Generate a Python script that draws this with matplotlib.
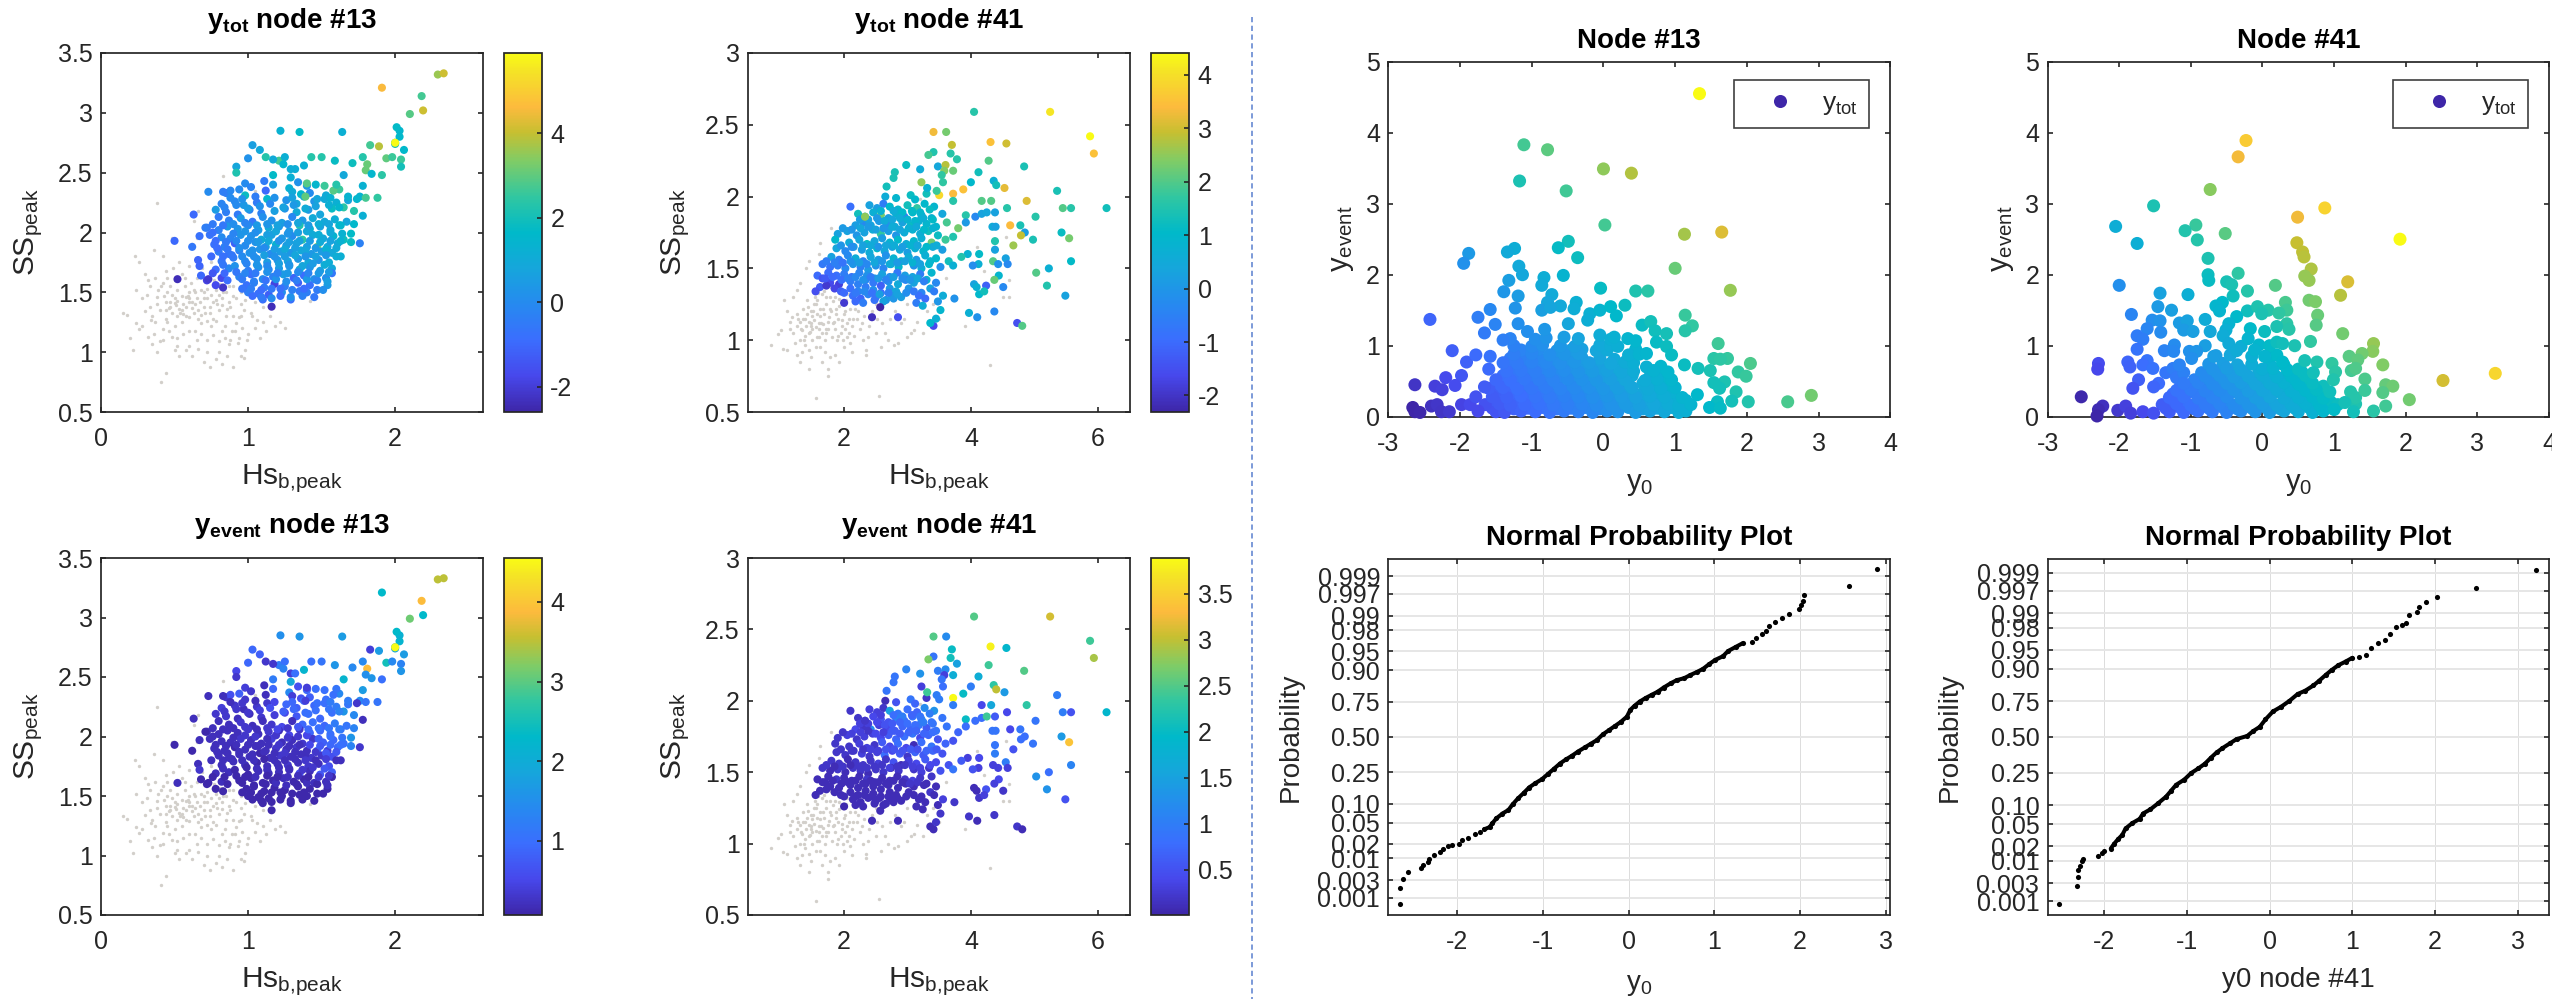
"""Scatter panels of Hs/SS coloured by response, plus y0 probability plots."""

from statistics import NormalDist

import matplotlib

matplotlib.use("Agg")
import matplotlib.pyplot as plt
from matplotlib.colors import LinearSegmentedColormap
from matplotlib.lines import Line2D

W, H = 2552, 1006

# -- node 13: dominant storms (colour cloud first, isolated storms after) --
hs13 = [
    .98, 1.02, 1.11, 1.17, 1.28, 1.34, 1.40,
    .85, .88, .94, .98, 1.12, 1.30, 1.36, 1.42, 1.53, 1.62,
    .82, .91, .97, 1.06, 1.13, 1.26, 1.33, 1.45, 1.52, 1.60, 1.68, 1.76,
    .78, .85, .93, 1.01, 1.09, 1.18, 1.25, 1.33, 1.41, 1.49, 1.57, 1.65, 1.72,
    .80, .87, .95, 1.03, 1.10, 1.16, 1.23, 1.30, 1.37, 1.44, 1.52, 1.59, 1.67, 1.78,
    .72, .80, .86, .93, 1.00, 1.07, 1.14, 1.21, 1.28, 1.35, 1.42, 1.49, 1.56, 1.63, 1.70,
    .74, .82, .88, .95, 1.02, 1.09, 1.16, 1.23, 1.30, 1.37, 1.44, 1.51, 1.58, 1.65,
    .77, .84, .91, .98, 1.05, 1.12, 1.19, 1.26, 1.33, 1.40, 1.47, 1.54, 1.61,
    .80, .87, .94, 1.01, 1.08, 1.15, 1.22, 1.29, 1.36, 1.43, 1.50, 1.57,
    .66, .82, .90, .98, 1.06, 1.13, 1.20, 1.27, 1.34, 1.41, 1.48, 1.55, 1.63,
    .67, .78, .87, 1.00, 1.07, 1.14, 1.21, 1.28, 1.35, 1.42, 1.49, 1.57,
    .68, .72, .82, .94, 1.02, 1.10, 1.17, 1.24, 1.31, 1.38, 1.45, 1.53, 1.57,
    .78, .83, .99, 1.04, 1.11, 1.18, 1.25, 1.34, 1.42, 1.54,
    1.00, 1.07, 1.14, 1.23, 1.35, 1.40, 1.10, 1.16, 1.29,
    .50, .63, .62, .71, .52, .73, .83, .73, .67,
    .84, .92, 1.00, 1.08, 1.15, 1.24, 1.31, 1.39, 1.46, 1.55, 1.62,
    .76, .90, .98, 1.05, 1.13, 1.19, 1.27, 1.34, 1.40, 1.48, 1.56, 1.64,
    .79, .86, .94, 1.03, 1.11, 1.18, 1.25, 1.32, 1.39, 1.46, 1.53, 1.60,
    .83, .91, .99, 1.06, 1.13, 1.21, 1.28, 1.37, 1.44, 1.52,
    .86, .96, 1.04, 1.12, 1.19, 1.26, 1.33, 1.40, 1.47, 1.54,
    1.03, 1.09, 1.16, 1.22, 1.29, 1.37, 1.45,
    .88, .96, 1.05, 1.18, 1.30, 1.38, 1.47, 1.56, 1.68, 1.74,
    .76, .83, .90, .98, 1.06, 1.13, 1.20, 1.27, 1.34, 1.41, 1.48, 1.55, 1.62, 1.72,
    .78, .85, .92, 1.00, 1.07, 1.14, 1.21, 1.28, 1.35, 1.42, 1.49, 1.56, 1.63, 1.70,
    .75, .83, .89, .96, 1.04, 1.11, 1.18, 1.25, 1.32, 1.39, 1.46, 1.53, 1.60,
    .76, .84, .92, .98, 1.05, 1.13, 1.20, 1.27, 1.34, 1.41, 1.48, 1.55,
    .96, 1.02, 1.09, 1.16, 1.22, 1.30, 1.38, 1.47, 1.51,
    2.00, 2.03, 2.03, 2.00, 2.06, 1.89, 1.83, 1.94, 1.98, 2.04, 2.04, 1.78, 1.81, 1.80,
    1.91, 1.84, 1.71, 1.65, 1.59, 1.50, 1.43, 1.38, 1.21, 1.25, 1.24, 1.17, 1.12, 1.00,
    1.08, 1.03, 1.22, 1.35, 1.64, .92, .92, 1.29, 1.32, 1.17, 1.29, 1.88, 1.80, 1.78,
    1.40, 1.52, 1.58, 1.60, 1.46, 1.39, 1.76,
    1.91, 2.29, 2.33, 2.18, 2.19, 2.10, 2.01, 2.00,
]
ss13 = [
    2.41, 2.38, 2.43, 2.40, 2.37, 2.42, 2.39,
    2.33, 2.35, 2.36, 2.31, 2.35, 2.34, 2.32, 2.33, 2.31, 2.36,
    2.24, 2.26, 2.23, 2.25, 2.28, 2.27, 2.24, 2.26, 2.28, 2.25, 2.27, 2.30,
    2.19, 2.17, 2.15, 2.19, 2.16, 2.18, 2.20, 2.17, 2.19, 2.15, 2.20, 2.21, 2.18,
    2.13, 2.10, 2.12, 2.09, 2.13, 2.10, 2.08, 2.13, 2.10, 2.12, 2.09, 2.11, 2.09, 2.14,
    2.04, 2.02, 2.05, 2.03, 2.06, 2.02, 2.04, 2.05, 2.01, 2.06, 2.03, 2.05, 2.02, 2.06, 1.99,
    1.98, 1.96, 1.95, 1.98, 1.97, 1.94, 1.98, 1.95, 1.97, 1.94, 1.98, 1.95, 1.97, 1.94,
    1.90, 1.88, 1.91, 1.89, 1.92, 1.88, 1.90, 1.89, 1.91, 1.88, 1.88, 1.88, 1.91,
    1.84, 1.82, 1.85, 1.83, 1.86, 1.82, 1.84, 1.83, 1.85, 1.82, 1.84, 1.83,
    1.77, 1.76, 1.79, 1.76, 1.78, 1.75, 1.77, 1.76, 1.78, 1.75, 1.77, 1.75, 1.80,
    1.72, 1.69, 1.70, 1.68, 1.71, 1.69, 1.70, 1.72, 1.69, 1.71, 1.68, 1.70,
    1.64, 1.60, 1.62, 1.63, 1.65, 1.61, 1.63, 1.65, 1.62, 1.64, 1.61, 1.62, 1.66,
    1.56, 1.54, 1.56, 1.58, 1.54, 1.57, 1.55, 1.58, 1.56, 1.56,
    1.50, 1.49, 1.48, 1.50, 1.51, 1.50, 1.44, 1.38, 1.44,
    1.93, 2.15, 1.88, 2.04, 1.61, 2.34, 2.34, 1.61, 1.97,
    2.21, 2.23, 2.20, 2.22, 2.24, 2.21, 2.23, 2.20, 2.22, 2.23, 2.21,
    2.00, 1.99, 2.01, 2.00, 1.98, 2.01, 1.99, 2.00, 2.01, 1.98, 2.00, 1.99,
    1.87, 1.86, 1.87, 1.85, 1.87, 1.86, 1.86, 1.87, 1.85, 1.87, 1.86, 1.87,
    1.73, 1.72, 1.74, 1.73, 1.72, 1.74, 1.73, 1.72, 1.74, 1.73,
    1.60, 1.61, 1.59, 1.60, 1.61, 1.59, 1.60, 1.61, 1.60, 1.59,
    1.47, 1.46, 1.45, 1.47, 1.46, 1.47, 1.46,
    2.29, 2.28, 2.30, 2.29, 2.29, 2.30, 2.28, 2.29, 2.30, 2.28,
    2.07, 2.06, 2.07, 2.08, 2.06, 2.07, 2.06, 2.07, 2.08, 2.06, 2.07, 2.07, 2.06, 2.07,
    1.93, 1.92, 1.93, 1.93, 1.92, 1.93, 1.93, 1.92, 1.93, 1.93, 1.92, 1.93, 1.93, 1.92,
    1.80, 1.80, 1.81, 1.80, 1.80, 1.81, 1.80, 1.80, 1.81, 1.80, 1.80, 1.81, 1.80,
    1.66, 1.66, 1.67, 1.66, 1.66, 1.67, 1.66, 1.66, 1.67, 1.66, 1.66, 1.67,
    1.53, 1.53, 1.52, 1.53, 1.53, 1.52, 1.53, 1.52, 1.52,
    2.74, 2.85, 2.80, 2.75, 2.69, 2.72, 2.73, 2.62, 2.63, 2.61, 2.55, 2.63, 2.57, 2.52,
    2.48, 2.49, 2.58, 2.48, 2.60, 2.63, 2.63, 2.56, 2.60, 2.63, 2.57, 2.61, 2.63, 2.62,
    2.69, 2.73, 2.85, 2.84, 2.84, 2.55, 2.50, 2.53, 2.53, 2.48, 2.46, 2.29, 2.29, 2.39,
    2.41, 2.39, 2.35, 2.40, 2.40, 2.30, 1.91,
    3.21, 3.32, 3.33, 3.14, 3.02, 2.99, 2.88, 2.75,
]
ytot13 = [
    0.0, -0.2, -0.5, 0.6, 1.3, 0.2, 0.4,
    -0.4, -0.1, 0.0, 1.8, -1.0, 1.0, 1.6, 0.0, 1.0, 2.6,
    -0.2, -0.1, 0.4, -0.5, 1.5, 0.2, 0.8, 0.3, 1.0, 1.2, 0.8, 1.4,
    .5, -.4, -.5, -.2, -.3, .6, .2, 1.0, .4, .8, 1.8, 2.4, 2.3,
    -.5, -.3, .4, -.6, .1, .2, .6, -.1, .4, 1.0, .9, 1.1, .8, 1.2,
    -.6, -.3, .4, .3, .0, .5, .9, .3, .5, 2.2, 1.2, .7, 1.0, 1.5, 1.7,
    -.7, .0, -.2, .3, .2, 1.0, .6, .4, .0, 2.4, 1.0, .9, 1.4, 1.9,
    -.8, -.3, -1.2, .0, .2, .7, 1.3, .5, .7, .6, 3.3, .8, .9,
    -.5, -.7, -.3, .2, .3, .0, .5, .3, .9, .4, .5, .9,
    -1.1, -.6, -.4, .0, .2, .5, .3, .7, .4, .9, .3, 1.1, 1.2,
    -1.1, -.9, -.1, -.4, .2, -.1, .4, .3, .9, .3, .6, .9,
    -1.0, -1.9, -1.7, -.2, -.8, .0, -.3, .5, -1.1, -.9, .1, .1, -.6,
    -1.7, -2.2, -.8, -.3, -.5, -1.9, -.4, -1.2, -.8, .4,
    -.4, -.8, -1.2, .1, -.6, -.4, -.8, -2.4, -.8,
    -1.0, -1.0, -.6, -.4, -2.4, .0, -.4, -2.1, -.8,
    -.2, .0, .5, .2, -.1, .7, .4, 1.0, .7, 1.2, 1.5,
    -.8, -.2, .3, .1, .6, .8, .3, .6, .9, 1.1, 1.0, 1.3,
    -.9, -.6, .1, .2, .0, .5, .9, .6, .8, .4, 1.2, 1.0,
    -.6, .2, -.2, .3, .0, .6, .3, .8, .5, 1.1,
    -.9, -.5, -.3, -.7, .2, .1, -.4, .4, -.2, .6,
    -.9, -.5, .0, -.9, .2, -.3, -.6,
    .0, .2, -.4, .2, .7, 1.0, .8, 1.3, 1.4, 1.5,
    -.5, -.6, .1, -.2, .4, .3, .7, .1, .8, .5, 1.1, .8, 1.5, 1.6,
    -.9, -.5, -.1, .1, .4, .9, .2, .6, .7, .5, 1.0, .7, 1.3, 1.8,
    -1.0, -.8, -.6, .0, .1, .6, .2, .5, .8, .3, .7, .4, 1.1,
    -1.4, -1.0, -.6, -.2, -.5, .2, -.3, .4, .0, -.2, .4, .5,
    -.7, -.4, -.9, -.6, -.8, -.3, -.9, -.5, .1,
    2.0, 1.5, 1.6, 2.0, 1.6, 3.9, 2.7, 3.0, 2.6, 2.6, 2.0, 2.3, 3.1, 3.1,
    2.4, 1.5, 1.9, .9, 1.8, 2.3, 2.3, 1.2, 2.7, 1.2, 1.5, 1.0, 2.3, .2,
    .9, .6, 1.3, 1.7, 1.2, .8, 2.2, 1.1, 1.1, 1.7, 1.2, 2.5, 2.7, 1.3,
    2.9, 2.6, 2.9, 2.3, 1.5, 3.0, -.3,
    4.6, 3.6, 4.1, 2.7, 4.1, 2.9, 1.7, 5.9,
]
yevent13 = [
    .4, .3, .2, .9, 1.4, .6, .9,
    .3, .6, .8, .3, .2, .4, .6, .8, 1.0, 1.4,
    .4, .3, .2, .3, .3, .9, .8, .9, 1.0, 1.2, 1.1, 1.4,
    .3, .3, .2, .2, .3, .4, .5, .7, 1.0, .9, 1.0, 1.6, 1.4,
    .2, .2, .3, .2, .2, .3, .5, .2, .9, 1.0, .9, 1.2, 1.1, .2,
    .2, .2, .2, .2, .3, .2, .3, .2, .5, .3, .9, .9, 1.0, 1.1, 1.6,
    .2, .2, .2, .3, .2, .2, .4, .2, .2, .3, .3, .8, .9, 1.0,
    .2, .2, .1, .2, .2, .2, .3, .2, .3, .2, 1.0, .4, .9,
    .2, .2, .2, .2, .1, .2, .3, .2, .2, .3, .3, .6,
    .2, .2, .2, .2, .1, .2, .2, .3, .2, .3, .2, .6, .2,
    .3, .2, .2, .1, .2, .2, .2, .2, .6, .2, .7, .8,
    .1, .1, .2, .1, .1, .1, .1, .2, .1, .1, .2, .2, .1,
    .1, .1, .1, .1, .1, .1, .1, .1, .1, .1,
    .1, .1, .1, .1, .1, .1, .1, .1, .1,
    .1, .2, .1, .1, .2, .2, .2, .1, .2,
    .3, .3, .3, .4, .6, .8, .9, 1.0, 1.0, 1.1, 1.3,
    .2, .2, .3, .3, .2, .3, .3, .3, .5, .8, 1.0, 1.1,
    .2, .2, .2, .2, .2, .2, .3, .2, .2, .3, .7, .7,
    .2, .1, .1, .2, .2, .2, .2, .3, .3, .7,
    .1, .1, .1, .1, .2, .2, .1, .2, .1, .2,
    .1, .1, .1, .1, .1, .1, .1,
    .2, .3, .2, .5, .9, .9, 1.0, 1.2, 1.2, .3,
    .2, .2, .2, .3, .2, .3, .5, .3, .7, .9, 1.0, 1.1, 1.2, 1.3,
    .2, .2, .2, .2, .2, .2, .3, .2, .2, .5, .7, .9, 1.0, 1.3,
    .2, .2, .2, .2, .2, .1, .2, .2, .2, .3, .2, .4, .2,
    .1, .1, .1, .1, .2, .1, .1, .2, .2, .1, .3, .3,
    .1, .1, .1, .1, .1, .1, .1, .1, .1,
    1.9, 2.1, 2.2, 1.9, 1.7, 1.7, .4, 2.5, 1.4, 1.3, 1.6, 1.4, 3.9, 1.5,
    1.0, 1.6, 1.4, 2.2, 1.6, 1.1, 1.0, 2.2, 1.2, 1.0, 1.3, .3, .3, .9,
    .8, .9, 1.5, 1.6, 1.7, .5, .3, .4, 1.0, 1.2, 1.9, 1.1, 1.1, 1.7,
    .4, 1.0, 1.0, 1.1, 1.0, .4, .3,
    2.3, 3.5, 3.5, 3.9, 2.3, 3.1, 2.3, 4.55,
]

# -- node 41: dominant storms --
hs41 = [
    2.65, 2.82, 3.05, 3.12, 3.30,
    2.40, 2.52, 2.62, 2.72, 2.85, 3.00, 3.15, 3.27, 3.42,
    2.22, 2.33, 2.46, 2.58, 2.70, 2.82, 2.95, 3.08, 3.22, 3.38, 3.55,
    2.18, 2.30, 2.42, 2.55, 2.68, 2.80, 2.92, 3.05, 3.18, 3.30, 3.45, 3.62,
    1.90, 2.05, 2.20, 2.32, 2.45, 2.58, 2.70, 2.82, 2.95, 3.08, 3.20, 3.33, 3.48, 3.80,
    1.86, 2.08, 2.24, 2.36, 2.48, 2.60, 2.72, 2.85, 2.98, 3.10, 3.22, 3.38, 3.60, 3.72,
    1.88, 2.02, 2.15, 2.28, 2.40, 2.52, 2.64, 2.76, 2.88, 3.00, 3.12, 3.25, 3.40, 3.55, 3.95,
    1.80, 1.92, 2.06, 2.18, 2.30, 2.42, 2.54, 2.66, 2.78, 2.90, 3.02, 3.14, 3.28, 3.45, 3.65, 3.85,
    1.66, 1.78, 1.90, 2.02, 2.14, 2.26, 2.38, 2.50, 2.62, 2.74, 2.86, 3.10, 3.22, 3.34, 3.52, 3.72,
    1.75, 1.88, 2.00, 2.12, 2.24, 2.36, 2.48, 2.60, 2.72, 2.84, 2.96, 3.08, 3.20, 3.38,
    1.58, 1.66, 1.78, 1.92, 2.10, 2.22, 2.34, 2.46, 2.58, 2.70, 2.85, 2.97, 3.10, 3.30, 3.45,
    1.62, 1.72, 1.85, 2.10, 2.22, 2.34, 2.46, 2.58, 2.72, 2.82, 3.02, 3.22, 3.36, 3.42,
    1.55, 1.95, 2.14, 2.26, 2.38, 2.50, 2.66, 2.75, 2.90, 3.18, 3.28, 3.48,
    2.18, 2.30, 2.48, 2.62, 2.78, 3.14, 3.24,
    2.58, 2.78, 2.92, 3.07, 3.20, 3.35,
    2.25, 2.38, 2.52, 2.64, 2.76, 2.88, 3.00, 3.12, 3.25, 3.40,
    1.98, 2.12, 2.26, 2.38, 2.50, 2.62, 2.76, 2.88, 3.02, 3.14, 3.26, 3.40,
    1.95, 2.12, 2.30, 2.42, 2.54, 2.66, 2.79, 2.92, 3.05, 3.16, 3.30, 3.46,
    1.72, 1.85, 1.98, 2.10, 2.24, 2.36, 2.48, 2.60, 2.72, 2.84, 2.96, 3.08, 3.20, 3.36,
    1.70, 1.82, 1.96, 2.06, 2.18, 2.30, 2.42, 2.54, 2.66, 2.78, 2.92, 3.04, 3.16, 3.26,
    2.00, 2.18, 2.32, 2.44, 2.56, 2.70, 2.84, 2.98, 3.10,
    4.05, 5.25, 5.88, 5.94, 6.14, 5.58, 5.45, 5.36, 5.43, 5.55, 5.58, 5.23, 5.20, 5.03,
    5.49, 5.02, 4.98, 4.84, 4.88, 4.78, 4.85, 4.79, 4.67, 4.62, 4.53, 4.57, 4.56, 4.31,
    4.28, 4.12, 4.00, 3.88, 4.36, 4.40, 4.17, 4.32, 4.38, 4.34, 4.39, 3.92, 4.07, 4.17,
    4.25, 3.92, 4.38, 4.38, 4.35, 4.55, 4.43, 4.58, 4.44, 4.37, 4.13, 4.12, 4.03, 4.51,
    4.24, 4.05, 4.09, 4.13, 4.21, 3.97, 4.10, 4.37, 4.73, 4.81, 3.41, 3.36, 3.45, 3.52,
    3.74, 3.56, 2.85, 2.44, 2.57, 2.00, 3.41, 3.61, 3.70, 3.68, 3.78, 3.41, 3.33, 2.98,
    2.80, 2.78, 2.67, 3.20, 3.48, 3.60, 3.58, 3.72, 3.54, 3.56, 3.22, 3.50, 3.72, 3.31,
    3.46, 3.72, 2.10, 2.33,
]
ss41 = [
    2.00, 1.99, 2.01, 1.98, 2.02,
    1.94, 1.92, 1.95, 1.93, 1.91, 1.94, 1.92, 1.95, 1.93,
    1.88, 1.86, 1.89, 1.87, 1.85, 1.88, 1.86, 1.89, 1.87, 1.85, 1.88,
    1.80, 1.82, 1.80, 1.83, 1.81, 1.79, 1.82, 1.80, 1.83, 1.81, 1.79, 1.82,
    1.74, 1.76, 1.73, 1.75, 1.77, 1.74, 1.76, 1.73, 1.75, 1.77, 1.74, 1.76, 1.73, 1.78,
    1.70, 1.68, 1.70, 1.67, 1.69, 1.71, 1.68, 1.70, 1.67, 1.69, 1.71, 1.68, 1.70, 1.72,
    1.64, 1.62, 1.65, 1.63, 1.61, 1.64, 1.62, 1.65, 1.63, 1.61, 1.64, 1.62, 1.65, 1.63, 1.60,
    1.58, 1.56, 1.59, 1.57, 1.55, 1.58, 1.56, 1.59, 1.57, 1.55, 1.58, 1.56, 1.59, 1.57, 1.55, 1.58,
    1.53, 1.51, 1.52, 1.50, 1.53, 1.51, 1.49, 1.52, 1.50, 1.53, 1.51, 1.52, 1.50, 1.53, 1.51, 1.52,
    1.47, 1.45, 1.46, 1.44, 1.47, 1.45, 1.43, 1.46, 1.44, 1.47, 1.45, 1.44, 1.46, 1.47,
    1.45, 1.43, 1.40, 1.39, 1.41, 1.39, 1.42, 1.40, 1.38, 1.41, 1.39, 1.42, 1.40, 1.42, 1.40,
    1.37, 1.38, 1.36, 1.36, 1.34, 1.37, 1.35, 1.33, 1.36, 1.34, 1.36, 1.33, 1.36, 1.34,
    1.34, 1.34, 1.31, 1.29, 1.32, 1.30, 1.28, 1.31, 1.30, 1.31, 1.29, 1.27,
    1.27, 1.26, 1.28, 1.27, 1.29, 1.26, 1.24,
    1.90, 1.90, 1.89, 1.90, 1.89, 1.91,
    1.84, 1.84, 1.85, 1.83, 1.84, 1.85, 1.84, 1.83, 1.85, 1.84,
    1.78, 1.77, 1.78, 1.79, 1.77, 1.78, 1.79, 1.77, 1.78, 1.79, 1.77, 1.78,
    1.66, 1.65, 1.66, 1.66, 1.65, 1.66, 1.66, 1.65, 1.66, 1.66, 1.65, 1.66,
    1.55, 1.54, 1.54, 1.55, 1.54, 1.53, 1.54, 1.55, 1.53, 1.54, 1.55, 1.54, 1.53, 1.55,
    1.43, 1.44, 1.42, 1.43, 1.44, 1.42, 1.44, 1.43, 1.42, 1.44, 1.43, 1.42, 1.43, 1.41,
    1.33, 1.33, 1.34, 1.33, 1.32, 1.33, 1.32, 1.33, 1.34,
    2.59, 2.59, 2.42, 2.30, 1.92, 1.92, 1.92, 2.04, 1.75, 1.71, 1.55, 1.50, 1.38, 1.47,
    1.31, 1.86, 1.70, 2.21, 1.97, 1.80, 1.75, 1.73, 1.66, 1.80, 2.06, 1.92, 2.37, 2.38,
    2.25, 2.17, 2.10, 2.05, 2.11, 2.08, 1.97, 1.97, 1.89, 1.79, 1.79, 1.87, 1.86, 1.88,
    1.89, 1.82, 1.69, 1.63, 1.55, 1.57, 1.53, 1.53, 1.45, 1.42, 1.60, 1.53, 1.52, 1.37,
    1.38, 1.39, 1.37, 1.32, 1.34, 1.19, 1.16, 1.20, 1.12, 1.10, 1.10, 1.12, 1.15, 1.21,
    1.29, 1.31, 1.16, 1.16, 1.23, 1.26, 2.45, 2.45, 2.36, 2.30, 2.26, 2.31, 2.29, 2.22,
    2.17, 2.13, 2.07, 2.19, 2.21, 2.22, 2.18, 2.18, 2.15, 2.10, 2.10, 2.01, 2.02, 2.06,
    2.04, 1.97, 1.93, 1.86,
]
ytot41 = [
    .6, .9, 1.2, 1.0, 1.3,
    .3, .2, -.6, 1.0, .9, 1.3, 1.7, 1.0, .9,
    1.3, .4, .7, 2.3, .2, .8, -.7, 1.0, .6, .7, .4,
    .2, -.3, .3, .1, -.2, .5, .3, 1.2, .7, .9, .9, 1.9,
    .3, .3, .0, .3, .6, 1.7, .2, .0, .6, .8, .6, 1.3, 1.2, 2.3,
    1.0, .5, .4, 1.2, .4, .2, .8, 1.0, .6, .9, .7, 2.2, 1.8, 1.5,
    .4, -.3, .1, .2, .6, 1.1, .4, .3, .5, .2, .7, .9, .5, .2, .8,
    .3, -.6, -.3, .6, -.4, .4, .2, -.1, .8, .9, .6, .1, .7, 1.0, 1.3, 1.5,
    -.7, -.8, -.6, -.3, .0, -.5, .1, -.1, -.4, .4, .9, -.1, .7, 1.0, -.1, .7,
    -1.0, -.9, -.6, -.8, -.4, -.1, .0, .3, -.2, -.7, .2, .3, -.6, .9,
    -1.0, -1.4, -1.6, -1.8, -.6, -.5, -.3, -.7, -1.2, -.1, .5, -.4, .3, .7, -.3,
    -1.3, -1.9, -1.7, -.9, -.4, -.6, -.2, -.9, .1, .4, .0, -.4, .3, -.6,
    -1.5, -1.2, -.9, -1.1, -.4, -.8, .0, .2, .2, -.9, -1.0, .0,
    -1.0, -.6, -.8, .3, .0, -.6, .6,
    .8, .6, 1.0, 1.1, .9, 1.2,
    .2, .3, .1, .5, .4, .6, .8, .9, .7, 1.1,
    .1, .0, .4, .1, .3, .0, .6, .4, .7, .5, 1.0, .8,
    .0, -.2, .3, .5, .0, .4, .6, .2, .8, .4, 1.0, .6,
    -.6, -.5, -.8, -.1, .2, -.3, .4, .0, .6, .1, .3, .8, .3, .9,
    -1.3, -1.0, -.9, -.5, -.3, -.1, -.6, .1, -.4, .2, -.2, .0, .4, -.5,
    -1.0, -.7, -.3, -.8, .2, -.5, .3, -.2, -.7,
    1.6, 4.1, 4.4, 3.5, 1.3, 1.6, 2.0, 1.4, 1.2, 2.3, 1.1, .7, 1.5, 2.0,
    .3, 1.6, 1.4, 1.4, 3.1, 1.4, .2, 2.9, 2.6, 3.4, 3.2, 1.6, 3.0, 3.5,
    2.0, 1.3, 1.0, 3.5, .7, 1.3, 2.0, 2.0, .3, .5, .3, 1.6, -.3, .3,
    .4, .1, 1.5, .3, 2.0, .3, -.1, -.3, .9, 2.2, 1.1, .7, -.2, -.3,
    -1.2, .3, .7, 1.0, 1.3, .7, -.1, -.3, -1.5, 2.0, -1.6, 1.0, .7, .9,
    -.1, .6, -1.5, -2.1, -2.3, -1.9, 3.3, 2.3, 2.9, 1.6, 1.6, 1.5, 1.9, 1.2,
    1.4, 1.4, 1.3, .6, .4, 2.8, 2.4, 2.2, 1.7, 1.7, 2.5, 3.9, 3.4, .8,
    1.8, 1.6, -.9, 2.5,
]
yevent41 = [
    .1, .5, .9, .7, .2,
    .3, .3, .2, 1.5, .9, .8, .7, 1.2, 1.3,
    .2, .4, .4, .5, .5, 1.1, .8, .9, 1.2, .9, .9,
    .4, .2, 1.2, .3, .4, .6, .7, .7, .9, .6, .9, .9,
    .2, .3, .2, .3, .3, .4, .6, .7, .8, .9, .4, .7, .5, .7,
    .2, .2, .3, .3, .2, .6, .4, .8, .4, .1, .8, .9, .7, .5,
    .2, .2, .2, .3, .2, .3, .8, .4, .6, .2, .7, .6, .7, .5, .3,
    .2, .2, .1, .2, .2, .2, .3, .2, .5, .1, .3, .4, .6, .4, .5, .6,
    .2, .1, .2, .1, .2, .2, .1, .2, .2, .1, .2, .2, .3, .2, .5, .9,
    .1, .2, .1, .1, .1, .2, .1, .1, .1, .1, .2, .3, .2, .2,
    .1, .1, .1, .1, .1, .1, .1, .1, .1, .1, .1, .1, .1, .1, .1,
    .1, .1, .1, .1, .1, .1, .1, .1, .1, .1, .1, .1, .2, .1,
    .1, .1, .1, .1, .1, .1, .1, .1, .1, .1, .1, .1,
    .1, .1, .1, .1, .1, .1, .1,
    .3, .8, 1.0, .7, .9, 1.0,
    .3, .3, .4, .5, .6, .7, .8, .8, 1.0, .9,
    .2, .3, .3, .2, .4, .3, .6, .6, .7, .7, .7, .8,
    .2, .2, .2, .3, .3, .5, .5, .5, .6, .5, .7, .6,
    .2, .1, .2, .1, .2, .2, .2, .2, .3, .2, .2, .3, .3, .4,
    .1, .1, .1, .1, .1, .1, .1, .1, .1, .1, .1, .2, .2, .1,
    .1, .1, .1, .1, .1, .1, .1, .1, .1,
    2.5, 3.1, 2.4, 2.9, 1.9, .5, 1.0, 1.0, 1.4, 3.4, 1.1, .8, 1.3, 1.3,
    .5, .9, .9, 2.5, 2.3, .9, .8, .8, .5, .4, 1.4, .4, 1.9, 3.8,
    2.4, 1.7, 1.0, 2.0, 2.3, 3.0, .4, 1.6, .6, .9, .9, 2.0, .8, .8,
    2.4, .8, .9, 1.0, .3, 1.0, .3, .3, .4, .3, .4, .3, .5, .2,
    .5, .1, .1, .2, .3, .2, .1, .2, .2, .1, .1, .1, .2, .2,
    .2, .3, .1, .1, .1, .05, 2.5, 1.2, 2.0, 2.1, 1.5, .9, 2.7, 1.1,
    .9, .9, .9, 1.3, 1.0, 1.2, .3, 1.7, .9, .8, .3, 1.0, 3.89, 2.4,
    1.0, 1.0, .2, .2,
]

# -- grey: storms below the peak-over-threshold --
hs13_grey = [
    .15, .18, .20, .22, .24, .26, .24, .23, .26, .30, .32, .38, .36, .42, .28, .31, .33, .35, .37, .38,
    .41, .44, .45, .47, .48, .50, .52, .53, .55, .57, .58, .60, .62, .64, .66, .68, .70, .72, .74, .76,
    .78, .80, .82, .85, .87, .88, .90, .92, .95, .97, .38, .42, .44, .46, .50, .53, .60, .65, .72, .80,
    .87, .95, .98, .44, .41, 1.05, 1.10, 1.15, 1.22, 1.25, 1.42, .50, .55, .60, .62, .65, .63, .66, .83, 1.05,
    .72, .75, .85, .90, .95, 1.05, 1.10, .48, .42, .58, .55, .52, .60, .63, .56, .50, .47, .44, .40, .65,
    .70, .72, .75, .78, .82, .85, .68, .60, .52,
    .30, .34, .38, .42, .46, .50, .54, .58, .62, .66, .70, .74, .78, .82, .86, .90, .94, .98, 1.02, 1.06,
    .28, .32, .36, .40, .44, .48, .52, .56, .60, .64, .68, .72, .76, .80, .84, .88, .92, .96, 1.00, 1.08,
    .35, .39, .43, .47, .51, .55, .59, .63, .67, .71, .75, .79, .83, .87, .91, .95, .99, 1.03, 1.12, 1.18,
    .33, .37, .45, .49, .53, .57, .61, .65, .69, .73, .77, .81, .89, .93, .97, .45, .48, .52, .56, .60,
    .64, .68, .72, .76, .80, .84, .58, .62, .66, .70, .74, .78, .82, .86, .90, .94,
]
ss13_grey = [
    1.33, 1.31, 1.12, 1.02, 1.24, 1.19, 1.52, 1.80, 1.75, 1.65, 1.60, 2.25, 1.85, 1.80, 1.45, 1.48, 1.38, 1.30, 1.25, 1.40,
    1.55, 1.68, 1.50, 1.42, 1.33, 1.22, 1.12, 1.36, 1.47, 1.55, 1.38, 1.29, 1.42, 1.50, 1.35, 1.24, 1.45, 1.53, 1.38, 1.28,
    1.44, 1.35, 1.18, 1.30, 1.42, 1.10, 1.30, 1.24, 1.40, 1.35, 1.00, 1.10, 1.28, 1.18, 1.02, .97, 1.05, 1.10, 1.00, 1.00,
    1.07, .97, 1.02, .83, .75, 1.20, 1.25, 1.30, 1.25, 1.20, 1.43, 1.60, 1.65, 1.72, 1.90, 1.95, 2.10, 2.18, 2.47, 2.35,
    2.00, 1.75, 1.60, 1.55, 1.50, 1.42, 1.38, 1.95, 1.58, 1.30, 1.25, 1.30, 1.42, 1.33, 1.40, 1.45, 1.38, 1.42, 1.35, 1.45,
    1.38, 1.45, 1.48, 1.52, 1.45, 1.50, 1.52, 1.50, 1.52,
    1.34, 1.27, 1.46, 1.19, 1.37, 1.41, 1.33, 1.46, 1.37, 1.28, 1.50, 1.33, 1.26, 1.39, 1.36, 1.47, 1.29, 1.44, 1.33, 1.27,
    1.22, 1.13, 1.15, 1.09, 1.35, 1.48, 1.43, 1.32, 1.45, 1.40, 1.31, 1.26, 1.42, 1.48, 1.22, 1.38, 1.45, 1.20, 1.15, 1.12,
    1.07, 1.52, 1.47, 1.55, 1.39, 1.35, 1.47, 1.52, 1.42, 1.33, 1.22, 1.40, 1.50, 1.55, 1.18, 1.30, 1.10, 1.30, 1.18, 1.22,
    1.55, 1.62, 1.62, 1.70, 1.75, 1.62, 1.58, 1.62, 1.70, 1.62, 1.60, 1.57, 1.18, 1.08, .95, 1.25, 1.13, 1.05, 1.15, 1.18,
    1.18, 1.15, 1.10, 1.14, 1.09, 1.12, 1.02, .97, 1.03, .92, .88, .94, .90, .97, .88, 1.12,
]
hs41_grey = [
    .84, .95, 1.00, 1.03, 1.10, 1.20, 1.25, 1.30, 1.15, 1.10, 1.05, 1.25, 1.35, 1.40, 1.45, 1.50, 1.55, 1.60, 1.65, 1.70,
    1.75, 1.80, 1.85, 1.90, 1.95, 2.00, 2.05, 2.10, 2.15, 2.20, 2.25, 2.30, 2.35, 2.40, 2.50, 2.60, 2.70, 2.85, 3.00, 3.10,
    3.30, 3.50, 3.70, 4.30, 1.55, 2.55, 1.30, 1.45, 1.65, 1.75, 1.75, 1.45, 1.55, 1.70, 1.85, 2.00, 1.80, 1.62, 1.60, 1.45,
    1.40, 1.30, 1.20, 1.35, 1.42, 1.48, 1.52, 1.58, 1.62, 1.68, 1.72, 1.78, 1.83, 1.88, 1.92, 1.98, 2.03, 2.08, 1.38, 1.50,
    1.60, 1.72, 1.48, 1.58, 1.30, 1.65, 1.55, 1.75, 2.50, 2.80, 3.00, 3.60, 3.90, 4.50, 4.60, 4.60, 4.20, 4.10, 3.20, 4.55,
    1.15, 1.22, 1.28, 1.33, 1.38, 1.43, 1.47, 1.52, 1.57, 1.62, 1.67, 1.72, 1.77, 1.82, 1.87, 1.92, 1.97, 2.02, 2.07, 2.12,
    1.18, 1.26, 1.32, 1.37, 1.41, 1.46, 1.51, 1.56, 1.61, 1.66, 1.71, 1.76, 1.81, 1.86, 1.91, 1.96, 2.01, 2.06, 2.11, 2.17,
    1.25, 1.33, 1.38, 1.44, 1.49, 1.54, 1.59, 1.64, 1.69, 1.74, 1.79, 1.84, 1.89, 1.94, 1.99, 2.04, 2.09, 2.14, 2.22, 2.28,
    2.32, 2.38, 2.44, 2.52, 2.58, 2.64, 2.72, 2.78, 2.90, 2.95, 3.05, 3.15, 3.25, 3.40, 1.48, 1.62, 1.78, 1.92, 2.12, 2.35,
]
ss41_grey = [
    .97, 1.04, 1.07, .94, .93, 1.05, 1.10, 1.00, 1.13, 1.20, 1.28, 1.35, 1.22, 1.10, 1.05, 1.17, 1.09, 1.12, 1.05, 1.00,
    1.13, 1.20, 1.08, 1.15, 1.05, 1.18, 1.12, 1.22, 1.03, 1.15, 1.08, 1.00, .93, 1.10, 1.05, 1.12, 1.00, .98, 1.02, 1.07,
    1.20, 1.15, 1.30, .83, .60, .61, .85, .80, .85, .75, .80, .93, .95, .92, .90, .95, 1.78, 1.68, 1.60, 1.55,
    1.50, 1.40, 1.30, 1.15, 1.18, 1.20, 1.25, 1.28, 1.22, 1.18, 1.25, 1.30, 1.27, 1.22, 1.29, 1.25, 1.28, 1.05, 1.03, 1.00,
    1.02, 1.08, 1.12, 1.18, 1.13, 1.32, 1.35, 1.40, 1.25, 1.20, 1.25, 1.43, 1.10, 1.30, 1.30, 1.42, 1.48, 1.65, 1.98, 1.72,
    1.08, .98, 1.15, 1.07, 1.15, 1.23, 1.10, 1.14, 1.02, 1.17, 1.11, 1.05, 1.22, 1.12, 1.18, 1.24, 1.10, 1.20, 1.15, 1.10,
    1.16, 1.18, 1.08, 1.00, 1.28, 1.06, 1.20, 1.25, 1.08, 1.22, 1.30, 1.16, 1.02, 1.30, 1.03, 1.14, 1.08, 1.32, 1.30, 1.22,
    .90, .92, .97, 1.13, 1.08, 1.30, 1.33, 1.12, 1.34, 1.08, 1.37, 1.13, 1.00, 1.33, 1.00, 1.02, .98, 1.15, 1.20, 1.12,
    1.17, 1.02, 1.20, 1.15, .95, 1.05, 1.15, .97, 1.12, 1.15, 1.05, 1.13, 1.05, 1.25, .88, .95, .88, .85, .92, .90,
]

# -- y0 against y_event --
y0_13 = [
    -1.55, -1.40, -1.25, -1.05, -.85, -.65, -.45, -.25, -.05, .15, .35, .55, .75, .95, 1.15,
    -1.50, -1.25, -1.05, -.85, -.65, -.45, -.25, -.05, .15, .35, .55, .75, .95, 1.15,
    -1.50, -1.30, -1.10, -.90, -.70, -.50, -.30, -.10, .10, .30, .55, .75, .95,
    -1.45, -1.25, -1.05, -.85, -.65, -.45, -.25, -.05, .15, .35, .55, .70, .90,
    -1.40, -1.20, -1.00, -.80, -.60, -.40, -.20, .00, .20, .40, .65, .85,
    -1.25, -1.05, -.85, -.65, -.45, -.25, -.05, .15, .35, .60, .80,
    -1.30, -1.10, -.90, -.70, -.50, -.30, -.05, .15, .40,
    -1.15, -.90, -.65, -.45, -.30, -.10, .05, .45,
    -1.50, -1.38, -1.15, -.95, -.75, -.55, -.35, -.15, .05, .20, .45, .65, .85, 1.05, 1.15,
    -1.65, -1.45, -1.30, -1.10, -.90, -.70, -.50, -.30, -.10, .10, .30, .50, .70, .90, 1.05, 1.22,
    -1.55, -1.35, -1.15, -.95, -.75, -.55, -.35, -.15, .05, .25, .45, .65, .85, 1.10,
    -1.60, -1.40, -1.20, -1.00, -.80, -.60, -.40, -.20, .00, .20, .40, .62, .80, 1.00,
    -1.50, -1.30, -1.10, -.90, -.70, -.50, -.30, -.10, .10, .30, .58, .75, .95,
    -1.35, -1.15, -.95, -.75, -.55, -.35, -.15, .05, .25, .42, .70, .90,
    -1.40, -1.20, -1.00, -.80, -.60, -.40, -.20, .10, .30, .42,
    -1.25, -1.00, -.75, -.55, -.35, .35, .50, .60,
    -1.25, -1.00, -.85, -.60, -.40, -.05, .10, .20,
    -1.30, -.95, -.80, -.55, -.35, -.05, .10, .15,
    1.34, -1.11, -.78, .00, .39, -1.17, -.52, .02, 1.13, 1.65, -.49, -.63, -1.24, -1.34, -1.88,
    -1.95, -.36, -1.18, -1.13, -.56, -.83, -1.32, -.86, 1.00, -.04, .45, .62, 1.77, -1.39, -1.19,
    -.72, -.78, -.60, -.38, -.41, -.86, -.74, -1.23, -1.58, -1.75, -2.42, -1.51, -1.66, -1.19, -.82,
    -.49, -.19, -.05, .10, .30, .18, -.22, 1.14, 1.24, 1.14, .54, .66, .72, .88, .34,
    .45, .74, .88, .95, 1.60, 1.54, 1.73, 1.63, 2.05, 1.88, 1.99, 1.49, 1.32, 1.13, 1.69,
    1.54, 1.62, 1.85, 1.79, 2.02, 1.59, 2.57, 2.90, 1.48, 1.63, 1.31, -1.40, -1.06, -2.11, -1.91,
    -1.78, -1.98, -2.20, -2.63, -2.35, -2.25, -2.07, -1.58, -1.60, -2.66, -2.63, -2.56, -2.40, -2.32, -2.26,
    -2.15, -1.98, -1.86, -1.75, -1.78, -1.66,
]
yev_13 = [
    .12, .13, .11, .12, .13, .11, .12, .13, .11, .12, .13, .11, .12, .13, .11,
    .22, .23, .21, .22, .23, .21, .22, .23, .21, .22, .23, .21, .22, .23,
    .34, .33, .35, .34, .33, .35, .34, .33, .35, .34, .33, .35, .34,
    .46, .47, .45, .46, .47, .45, .46, .47, .45, .46, .47, .45, .46,
    .58, .57, .59, .58, .57, .59, .58, .57, .59, .58, .57, .59,
    .70, .71, .69, .70, .71, .69, .70, .71, .69, .70, .71,
    .82, .81, .83, .82, .81, .83, .82, .81, .83,
    .94, .95, .93, .94, .95, .93, .94, .95,
    .07, .06, .08, .07, .06, .08, .07, .06, .08, .07, .06, .08, .07, .06, .08,
    .17, .18, .16, .17, .18, .16, .17, .18, .16, .17, .18, .16, .17, .18, .16, .17,
    .28, .27, .29, .28, .27, .29, .28, .27, .29, .28, .27, .29, .28, .27,
    .40, .41, .39, .40, .41, .39, .40, .41, .39, .40, .41, .39, .40, .41,
    .52, .51, .53, .52, .51, .53, .52, .51, .53, .52, .51, .53, .52,
    .64, .65, .63, .64, .65, .63, .64, .65, .63, .64, .65, .63,
    .76, .75, .77, .76, .75, .77, .76, .75, .77, .76,
    .88, .89, .87, .88, .89, .87, .88, .89,
    1.00, .99, 1.01, 1.00, .99, 1.01, 1.00, .99,
    1.10, 1.09, 1.11, 1.12, 1.10, 1.15, 1.09, 1.12,
    4.55, 3.83, 3.76, 3.49, 3.43, 3.32, 3.18, 2.70, 2.57, 2.60, 2.47, 2.38, 2.37, 2.32, 2.30,
    2.16, 2.24, 2.12, 2.00, 1.99, 1.96, 1.92, 1.85, 2.09, 1.81, 1.77, 1.77, 1.78, 1.76, 1.70,
    1.72, 1.61, 1.56, 1.61, 1.52, 1.50, 1.54, 1.53, 1.51, 1.40, 1.37, 1.30, 1.18, 1.31, 1.23,
    1.31, 1.45, 1.50, 1.55, 1.57, 1.42, 1.36, 1.43, 1.28, 1.21, 1.29, 1.34, 1.21, 1.17, 1.10,
    1.07, 1.05, .99, .87, 1.03, .82, .82, .81, .75, .63, .57, .65, .68, .73, .49,
    .48, .40, .35, .22, .21, .21, .21, .30, .13, .12, .31, 1.08, 1.20, .93, .77,
    .87, .58, .55, .45, .43, .38, .44, .85, .67, .13, .07, .06, .15, .17, .07,
    .07, .17, .17, .08, .28, .42,
]
y0_41 = [
    -1.35, -1.15, -.95, -.75, -.55, -.35, -.15, .05, .25, .45, .65, .85,
    -1.30, -1.10, -.90, -.70, -.50, -.30, -.10, .10, .30, .50, .70, .95,
    -1.25, -1.05, -.85, -.65, -.45, -.25, -.05, .15, .35, .55, .70,
    -1.15, -.95, -.75, -.55, -.35, -.15, .05, .25, .45, .65, .85,
    -.95, -.75, -.55, -.35, -.15, .05, .25, .45, .65,
    -.85, -.65, -.45, -.25, -.05, .15, .35, .55,
    -.75, -.55, -.35, -.15, .10, .30,
    -.65, -.45, -.15, .10, .20,
    -.80, -.30, -.05, .10,
    -1.45, -1.35, -1.25, -1.20, -1.10,
    -1.30, -1.10, -.90, -.70, -.50, -.30, -.10, .10, .30, .50, .70, .85,
    -1.40, -1.20, -1.00, -.80, -.60, -.40, -.20, .00, .20, .40, .60, .80, 1.05, 1.30,
    -1.30, -1.10, -.90, -.70, -.50, -.30, -.10, .10, .30, .50, .70, .85, 1.30,
    -1.20, -1.00, -.80, -.60, -.40, -.20, .00, .20, .40, .60, .75,
    -1.10, -.90, -.70, -.50, -.30, -.10, .10, .30, .50, .70,
    -.80, -.60, -.40, -.20, .00, .20, .40, .60,
    -.70, -.50, -.30, .00, .15, .35, .50,
    -.23, -.34, -.73, -1.52, .87, .49, -2.05, -.93, -1.08, -.52, -.91, -1.75, .48, .56, .58,
    1.92, -.76, .68, -.34, -.76, -.75, .59, .65, -.50, -.43, 1.19, -2.00, .18, -.21, -1.43,
    -1.04, 1.09, -.41, .65, .74, .32, -.56, -.65, -.60, -1.46, -1.27, -.21, -.07, .08, -.01,
    .34, .23, .77, -1.83, -.36, -1.54, -1.43, -1.16, -1.05, -.80, -.47, .34, .75, -1.61, -1.42,
    -1.10, -.97, -.73, -.51, -.17, .03, .20, .37, 1.12, -1.75, -1.67, -1.75, -.55, -.20, .67,
    .45, .20, .28, 1.55, -1.23, -1.37, -1.24, -1.02, -.92, -.47, -.36, -.11, 1.54, 1.39, 1.21,
    1.33, -2.29, -2.30, -1.88, -1.85, -1.61, -1.67, -1.53, -1.16, -.99, -.68, .03, .28, .59, .76,
    .97, 1.68, 1.24, 1.30, 1.02, .71, -1.73, -1.81, -1.52, 1.43, 1.72, 1.82, 1.68, 1.23, 1.43,
    -2.53, 2.05, 2.52, 3.25, .99, .94, -2.23, -2.29, -2.31, -2.02, -1.91, -1.84, -1.67, -1.52, 1.15,
    1.00, 1.27, 1.55, 1.72,
]
yev_41 = [
    .12, .13, .11, .12, .13, .11, .12, .13, .11, .12, .13, .11,
    .22, .23, .21, .22, .23, .21, .22, .23, .21, .22, .23, .21,
    .32, .33, .31, .32, .33, .31, .32, .33, .31, .32, .33,
    .42, .43, .41, .42, .43, .41, .42, .43, .41, .42, .43,
    .52, .53, .51, .52, .53, .51, .52, .53, .51,
    .62, .63, .61, .62, .63, .61, .62, .63,
    .74, .75, .73, .74, .75, .73,
    .86, .87, .85, .86, .87,
    1.00, .99, 1.01, 1.00,
    .47, .62, .68, .55, .62,
    .07, .06, .08, .07, .06, .08, .07, .06, .08, .07, .06, .08,
    .17, .18, .16, .17, .18, .16, .17, .18, .16, .17, .18, .16, .17, .18,
    .27, .28, .26, .27, .28, .26, .27, .28, .26, .27, .28, .26, .27,
    .37, .38, .36, .37, .38, .36, .37, .38, .36, .37, .38,
    .47, .48, .46, .47, .48, .46, .47, .48, .46, .47,
    .57, .58, .56, .57, .58, .56, .57, .58,
    .67, .68, .66, .67, .68, .66, .67,
    3.89, 3.66, 3.20, 2.97, 2.94, 2.81, 2.68, 2.70, 2.62, 2.58, 2.49, 2.44, 2.45, 2.32, 2.25,
    2.50, 2.23, 2.08, 2.02, 2.00, 1.92, 1.98, 1.92, 1.90, 1.86, 1.90, 1.85, 1.85, 1.77, 1.74,
    1.72, 1.71, 1.70, 1.64, 1.62, 1.61, 1.61, 1.56, 1.49, 1.55, 1.50, 1.49, 1.55, 1.50, 1.45,
    1.50, 1.46, 1.43, 1.44, 1.41, 1.36, 1.35, 1.32, 1.35, 1.37, 1.31, 1.31, 1.29, 1.24, 1.19,
    1.22, 1.20, 1.20, 1.22, 1.24, 1.20, 1.27, 1.23, 1.17, 1.14, 1.09, .95, 1.14, 1.10, 1.06,
    1.00, 1.05, 1.03, 1.03, 1.01, .93, .92, .92, .92, 1.03, .93, .94, .92, .89, .85,
    .80, .75, .67, .77, .70, .79, .73, .68, .73, .82, .85, .85, .77, .79, .77,
    .75, .73, .65, .68, .63, .62, .52, .40, .42, .53, .45, .43, .34, .35, .37,
    .28, .24, .51, .61, .52, .35, .15, .10, .01, .09, .15, .05, .07, .05, .20,
    .10, .07, .08, .15,
]

# -- normal probability plots: sorted y0 and its normal quantile --
probit_y0_13 = [
    -2.66, -2.66, -2.63, -2.57, -2.42, -2.40, -2.34, -2.33, -2.27, -2.20, -2.16, -2.11, -2.06, -1.98, -1.94,
    -1.87, -1.79, -1.73, -1.68, -1.62, -1.59, -1.54, -1.47, -1.40, -1.35, -1.29, -1.22, -1.16, -1.09, -1.01,
    -.94, -.87, -.80, -.73, -.66, -.59, -.51, -.44, -.37, -.30, -.23, -.16, -.09, -.02, .02,
    .07, .13, .20, .27, .34, .41, .49, .56, .65, .72, .80, .87, .94, 1.01, 1.10,
    1.16, 1.25, 1.33, 1.44, 1.49, 1.55, 1.60, 1.64, 1.71, 1.79, 1.87, 1.99, 2.01, 2.03, 2.05,
    2.57, 2.90,
]
probit_z_13 = [
    -3.21, -2.89, -2.72, -2.60, -2.52, -2.46, -2.39, -2.34, -2.26, -2.21, -2.15, -2.09, -2.07, -2.05, -1.98,
    -1.93, -1.87, -1.82, -1.77, -1.73, -1.66, -1.56, -1.47, -1.40, -1.29, -1.18, -1.07, -.97, -.89, -.81,
    -.71, -.61, -.51, -.43, -.36, -.28, -.20, -.13, -.06, .05, .13, .21, .29, .39, .52,
    .60, .68, .75, .81, .87, .95, 1.03, 1.09, 1.13, 1.19, 1.25, 1.31, 1.40, 1.48, 1.55,
    1.65, 1.73, 1.80, 1.83, 1.91, 1.98, 2.04, 2.13, 2.20, 2.29, 2.37, 2.45, 2.53, 2.62, 2.73,
    2.89, 3.22,
]
probit_y0_41 = [
    -2.54, -2.33, -2.31, -2.31, -2.29, -2.27, -2.25, -2.07, -2.03, -2.00, -1.92, -1.88, -1.83, -1.78, -1.74,
    -1.66, -1.57, -1.53, -1.44, -1.35, -1.25, -1.19, -1.13, -1.03, -.95, -.86, -.78, -.71, -.64, -.57,
    -.48, -.40, -.27, -.20, -.12, -.05, .04, .14, .24, .34, .43, .53, .60, .68, .75,
    .83, .92, 1.00, 1.08, 1.17, 1.23, 1.31, 1.39, 1.46, 1.53, 1.60, 1.65, 1.69, 1.78, 1.80,
    1.89, 2.02, 2.49, 3.22,
]
probit_z_41 = [
    -3.14, -2.80, -2.63, -2.51, -2.43, -2.34, -2.29, -2.24, -2.18, -2.14, -2.10, -2.01, -1.92, -1.84, -1.72,
    -1.62, -1.54, -1.44, -1.36, -1.25, -1.12, -1.01, -.90, -.80, -.68, -.59, -.50, -.39, -.29, -.21,
    -.12, -.04, .02, .11, .19, .33, .48, .57, .68, .81, .87, .97, 1.06, 1.17, 1.26,
    1.35, 1.42, 1.49, 1.50, 1.55, 1.68, 1.76, 1.82, 1.94, 2.06, 2.11, 2.15, 2.29, 2.36, 2.44,
    2.53, 2.64, 2.81, 3.15,
]
prob_ticks = [0.001, 0.003, 0.01, 0.02, 0.05, 0.10, 0.25, 0.50, 0.75, 0.90, 0.95, 0.98, 0.99, 0.997, 0.999]
prob_labels = ["0.001", "0.003", "0.01", "0.02", "0.05", "0.10", "0.25", "0.50", "0.75", "0.90", "0.95", "0.98", "0.99", "0.997", "0.999"]

parula = LinearSegmentedColormap.from_list("parula", [
    (0.00, (0.242, 0.150, 0.660)),
    (0.10, (0.279, 0.282, 0.925)),
    (0.20, (0.230, 0.430, 0.995)),
    (0.30, (0.150, 0.540, 0.940)),
    (0.40, (0.085, 0.650, 0.860)),
    (0.50, (0.000, 0.725, 0.790)),
    (0.60, (0.190, 0.780, 0.630)),
    (0.70, (0.500, 0.800, 0.400)),
    (0.78, (0.780, 0.750, 0.190)),
    (0.85, (0.990, 0.730, 0.240)),
    (0.95, (0.960, 0.890, 0.150)),
    (1.00, (0.977, 0.984, 0.080)),
])

DARK = "#262626"
GREY = "#d2cfca"

plt.rcParams["font.family"] = ["Liberation Sans", "DejaVu Sans"]
plt.rcParams["mathtext.fontset"] = "custom"
plt.rcParams["mathtext.rm"] = "Liberation Sans"
plt.rcParams["mathtext.it"] = "Liberation Sans"
plt.rcParams["mathtext.bf"] = "Liberation Sans:bold"
plt.rcParams["mathtext.default"] = "rm"
plt.rcParams["axes.unicode_minus"] = False
plt.rcParams["axes.linewidth"] = 1.25
plt.rcParams["text.color"] = DARK
plt.rcParams["axes.labelcolor"] = DARK

fig = plt.figure(figsize=(W / 100, H / 100), dpi=100)


def add_box(left, top, right, bottom):
    ax = fig.add_axes([left / W, 1 - bottom / H, (right - left) / W, (bottom - top) / H])
    for spine in ax.spines.values():
        spine.set_color(DARK)
    ax.tick_params(direction="in", top=True, right=True, length=3.6, width=1.2,
                   labelsize=18, colors=DARK)
    ax.tick_params(axis="x", pad=11)
    ax.tick_params(axis="y", pad=6)
    return ax


def storm_panel(box, cbox, hs, ss, colour, grey_x, grey_y, xlim, xticks, ylim, yticks,
                clim, cticks, title):
    ax = add_box(*box)
    ax.scatter(grey_x, grey_y, s=6, color=GREY, linewidths=0)
    sc = ax.scatter(hs, ss, s=34, c=colour, cmap=parula, vmin=clim[0], vmax=clim[1], linewidths=0)
    ax.set_xlim(*xlim)
    ax.set_ylim(*ylim)
    ax.set_xticks(xticks)
    ax.set_yticks(yticks)
    ax.set_yticklabels([f"{v:g}" for v in yticks])
    ax.set_xlabel(r"$\mathrm{Hs}_{\mathrm{b{,}peak}}$", fontsize=21.5, labelpad=8)
    ax.set_ylabel(r"$\mathrm{SS}_{\mathrm{peak}}$", fontsize=21.5, labelpad=9)
    ax.set_title(title, fontsize=20, fontweight="bold", color="black", pad=18)
    cax = add_box(*cbox)
    cb = fig.colorbar(sc, cax=cax, ticks=cticks)
    cb.ax.set_yticklabels([f"{v:g}" for v in cticks])
    cb.ax.tick_params(direction="in", length=3.6, width=1.2, labelsize=18, colors=DARK, pad=6)
    cb.outline.set_edgecolor(DARK)
    cb.outline.set_linewidth(1.25)


def response_panel(box, y0, yev, title):
    ax = add_box(*box)
    ytot = [a + b for a, b in zip(y0, yev)]
    ax.scatter(y0, yev, s=88, c=ytot, cmap=parula, vmin=min(ytot), vmax=max(ytot),
               linewidths=0, clip_on=False, zorder=3)
    ax.set_xlim(-3, 4)
    ax.set_ylim(0, 5)
    ax.set_xticks(range(-3, 5))
    ax.set_yticks(range(0, 6))
    ax.set_xlabel(r"$\mathrm{y}_{0}$", fontsize=21, labelpad=10)
    ax.set_ylabel(r"$\mathrm{y}_{\mathrm{event}}$", fontsize=21, labelpad=7)
    ax.set_title(title, fontsize=20, fontweight="bold", color="black", pad=10)
    handle = Line2D([], [], linestyle="none", marker="o", markersize=9.4,
                    color="#3e26a8", markeredgewidth=0)
    leg = ax.legend([handle], [r"$\mathrm{y}_{\mathrm{tot}}$"], loc="upper right",
                    bbox_to_anchor=(0.958, 0.9476), borderaxespad=0, fontsize=19,
                    frameon=True, fancybox=False, edgecolor="#404040", framealpha=1,
                    handlelength=2.65, handletextpad=0.27, borderpad=0.42)
    leg.set_zorder(5)
    leg.get_frame().set_linewidth(1.2)


def probability_panel(box, y0, z, xlim, zmax, core, xlabel, xpad):
    ax = add_box(*box)
    ax.grid(True, axis="x", color="#dcdcdc", linewidth=0.7)
    ax.grid(True, axis="y", color="#e6e6e6", linewidth=1.4)
    ax.set_axisbelow(True)
    ax.plot(y0, z, linestyle="none", marker="o", markersize=3.7, color="black", markeredgewidth=0)
    # the dense middle of the sample reads as one thick trace
    for i in range(len(y0) - 1):
        if core[0] <= y0[i] and y0[i + 1] <= core[1]:
            ax.plot(y0[i:i + 2], z[i:i + 2], color="black", linewidth=2.9, solid_capstyle="round")
    ax.set_xlim(*xlim)
    ax.set_ylim(-zmax, zmax)
    ax.set_xticks(range(-2, 4))
    ax.set_yticks([NormalDist().inv_cdf(p) for p in prob_ticks])
    ax.set_yticklabels(prob_labels)
    ax.set_xlabel(xlabel, fontsize=20, labelpad=xpad)
    ax.set_ylabel("Probability", fontsize=20, labelpad=10)
    ax.set_title("Normal Probability Plot", fontsize=20, fontweight="bold", color="black", pad=10)


storm_panel((101, 53, 483.4, 412), (504.4, 53, 542, 412), hs13, ss13, ytot13,
            hs13_grey, ss13_grey, (0, 2.6), [0, 1, 2], (0.5, 3.5),
            [0.5, 1, 1.5, 2, 2.5, 3, 3.5], (-2.6, 5.9), [-2, 0, 2, 4],
            r"$\mathbf{y}_{\mathbf{tot}}$ node #13")
storm_panel((748, 53, 1130, 412), (1150.5, 53, 1189.3, 412), hs41, ss41, ytot41,
            hs41_grey, ss41_grey, (0.484, 6.51), [2, 4, 6], (0.5, 3),
            [0.5, 1, 1.5, 2, 2.5, 3], (-2.31, 4.41), [-2, -1, 0, 1, 2, 3, 4],
            r"$\mathbf{y}_{\mathbf{tot}}$ node #41")
storm_panel((101, 558, 483.4, 915), (504.4, 558, 542, 915), hs13, ss13, yevent13,
            hs13_grey, ss13_grey, (0, 2.6), [0, 1, 2], (0.5, 3.5),
            [0.5, 1, 1.5, 2, 2.5, 3, 3.5], (0.07, 4.55), [1, 2, 3, 4],
            r"$\mathbf{y}_{\mathbf{event}}$ node #13")
storm_panel((748, 558, 1130, 915), (1150.5, 558, 1189.3, 915), hs41, ss41, yevent41,
            hs41_grey, ss41_grey, (0.484, 6.51), [2, 4, 6], (0.5, 3),
            [0.5, 1, 1.5, 2, 2.5, 3], (0.01, 3.89), [0.5, 1, 1.5, 2, 2.5, 3, 3.5],
            r"$\mathbf{y}_{\mathbf{event}}$ node #41")

response_panel((1388.4, 61.7, 1890.2, 416.7), y0_13, yev_13, "Node #13")
response_panel((2047.6, 61.7, 2549, 416.7), y0_41, yev_41, "Node #41")

probability_panel((1388.4, 559, 1890.2, 915), probit_y0_13, probit_z_13, (-2.8, 3.05), 3.417,
                  (-1.68, 1.33), r"$\mathrm{y}_{0}$", 13)
probability_panel((2047.6, 559, 2549, 915), probit_y0_41, probit_z_41, (-2.683, 3.376), 3.348,
                  (-1.92, 1.00), "y0 node #41", 9)

# -- dashed divider between the two halves --
fig.add_artist(Line2D([1252.2 / W, 1252.2 / W], [1 - 16.5 / H, 1 - 999 / H], color="#7c9ad8",
                      linewidth=1.4, linestyle=(0, (2.7, 1.8))))

fig.savefig("out.png", dpi=100)
plt.close(fig)
